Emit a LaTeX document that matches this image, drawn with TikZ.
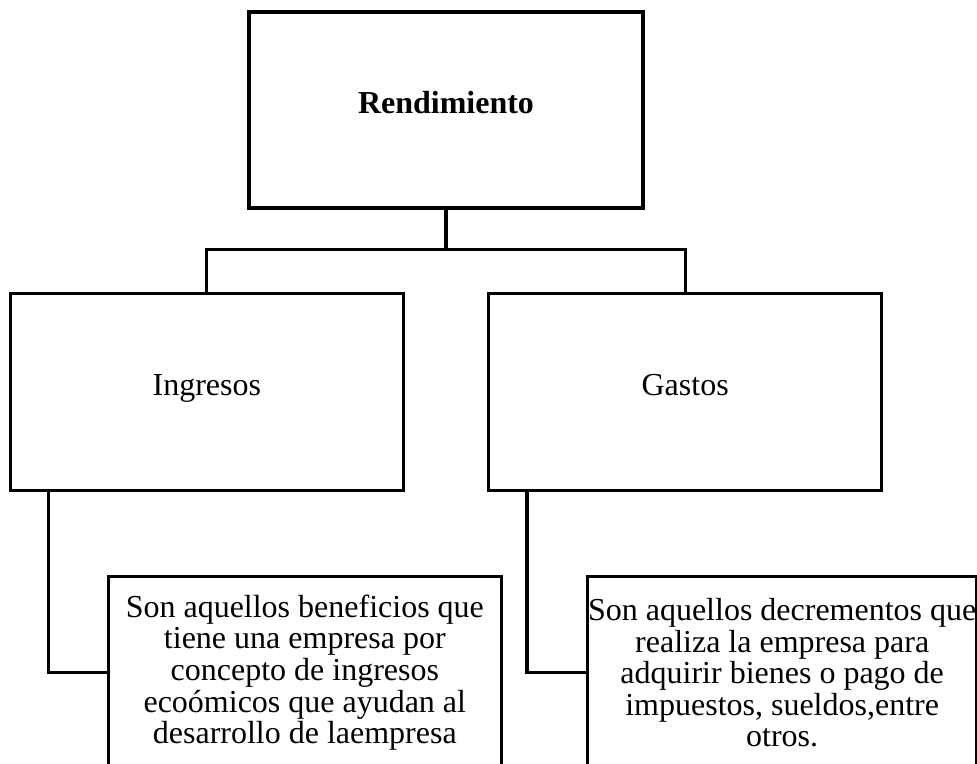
\documentclass[tikz,border=0pt]{standalone}
\usepackage{fontspec}
\setmainfont{Liberation Serif}
\usetikzlibrary{positioning}

\begin{document}
\begin{tikzpicture}[
box/.style={draw,
rectangle,
line width=2.4pt,
minimum width=9.825cm,
minimum height=4.925cm,
inner sep=0pt,
align=center,
font=\fontsize{22.76pt}{27pt}\selectfont},
headbox/.style={box,
text height=0.74em,
text depth=0.2em},
descbox/.style={box,
minimum height=4.8cm,
font=\fontsize{22.76pt}{22.5pt}\selectfont},
conn/.style={line width=2.2pt}
]

\useasboundingbox (0,0) rectangle (24.425,-19.075);

\node[headbox, minimum width=9.85cm, minimum height=4.9cm] (rend) at (11.15,-2.75) {\textbf{Rendimiento}};
\node[headbox, below left=2.05cm and 1.025cm of rend.south] (ingresos) {Ingresos};
\node[headbox, below right=2.05cm and 1.025cm of rend.south] (gastos) {Gastos};

\node[descbox, below right=2.075cm and 2.45cm of ingresos.south west] (ingdesc) {Son aquellos beneficios que\\ tiene una empresa por\\ concepto de ingresos\\ ecoómicos que ayudan al\\ desarrollo de laempresa};
\node[descbox, minimum width=9.725cm, below right=2.075cm and 2.475cm of gastos.south west] (gasdesc) {Son aquellos decrementos que\\ realiza la empresa para\\ adquirir bienes o pago de\\ impuestos, sueldos,entre\\ otros.};

\draw[conn] (rend.south) -- ++(0,-1cm) -| (ingresos.north);
\draw[conn] (rend.south) -- ++(0,-1cm) -| (gastos.north);

\draw[conn] ([xshift=1cm]ingresos.south west) |- (ingdesc.west);
\draw[conn] ([xshift=1cm]gastos.south west) |- (gasdesc.west);

\end{tikzpicture}
\end{document}
